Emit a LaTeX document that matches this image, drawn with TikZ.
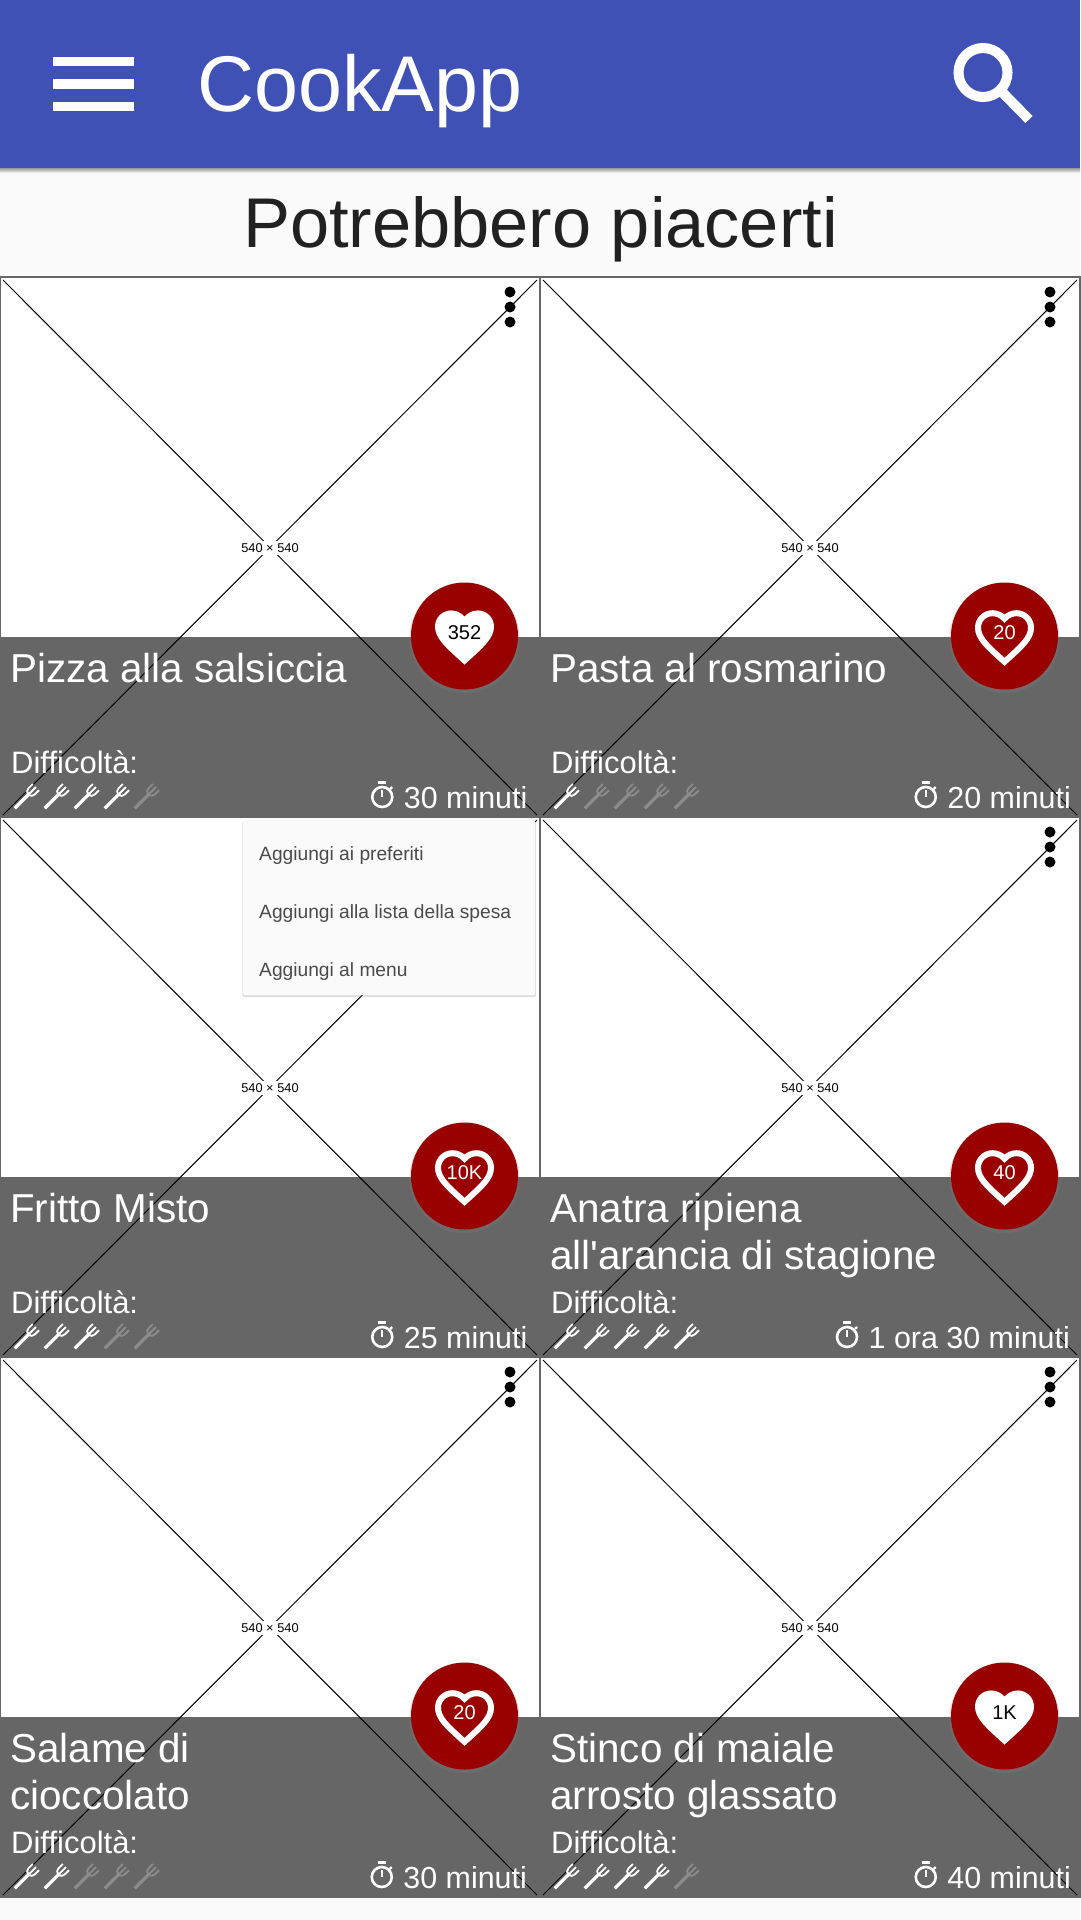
\documentclass[tikz,border=0pt]{standalone}
\usepackage{fontspec}
\setmainfont{Liberation Sans}
\usetikzlibrary{positioning,shadows}

\definecolor{appbar}{HTML}{3F51B5}
\definecolor{pagebg}{HTML}{FAFAFA}
\definecolor{headtext}{HTML}{212121}
\definecolor{panelgrey}{HTML}{666666}
\definecolor{cardline}{HTML}{666666}
\definecolor{fabred}{HTML}{990000}
\definecolor{forkoff}{HTML}{8C8C8C}
\definecolor{menutext}{HTML}{4A4A4A}

\newcommand{\fpx}[2]{\fontsize{#1}{#2}\selectfont}

% outline of the heart
\newcommand{\heartshape}{
  (12,21.35) -- (10.55,20.03)
  .. controls (5.4,15.36) and (2,12.28) .. (2,8.5)
  .. controls (2,5.42) and (4.42,3) .. (7.5,3)
  .. controls (9.24,3) and (10.91,3.81) .. (12,5.09)
  .. controls (13.09,3.81) and (14.76,3) .. (16.5,3)
  .. controls (19.58,3) and (22,5.42) .. (22,8.5)
  .. controls (22,12.28) and (18.6,15.36) .. (13.45,20.04) -- cycle
}

% name, x, y, title, likes, full/line, forks, time, right end of time
\newcommand{\recipecard}[9]{
  \begin{scope}[shift={(#2,#3)}]
    \coordinate (#1nw) at (0,0);
    \coordinate (#1se) at (540,540);
    \fill[white] (#1nw) rectangle (#1se);
    \fill[panelgrey] (0,360) rectangle (#1se);
    \draw[crossline] (3,3) -- (537,538);
    \draw[crossline] (537,3) -- (3,538);
    \draw[cardframe] (#1nw) rectangle (#1se);
    \node (#1size) [sizetext] at (270,271) {540 × 540};
    \foreach \d in {15,30,45} \fill (510,\d) circle (5.5);
    \node (#1title) [titletext] at (10,372) {\strut #4};
    \node (#1level) [difftext] at (11,496) {Difficoltà:};
    \foreach \i in {1,...,5} {
      \ifnum\i>#7\def\forkcol{forkoff}\else\def\forkcol{white}\fi
      \pic[color=\forkcol] at ({-4+30*\i},520) {forkicon};
    }
    \node (#1time) [timetext] at (#9,531) {#8};
    \pic[color=white] at ([xshift=-21.5pt,yshift=11pt]#1time.base west) {clockicon};
    \node (#1fab) [fabdisc] at (464.5,359) {};
    \pic at (464.5,360.5) {heart#6};
    \node (#1likes) [likes#6] at (464.5,356) {#5};
  \end{scope}
}

\begin{document}
\begin{tikzpicture}[
    x=1pt, y=-1pt,
    crossline/.style={black, line width=1},
    cardframe/.style={cardline, line width=1.6},
    sizetext/.style={fill=white, inner sep=2, font=\fpx{12.8}{14}},
    titletext/.style={white, anchor=north west, inner sep=0, align=left, font=\fpx{40.4}{47}},
    difftext/.style={white, anchor=base west, inner sep=0, font=\fpx{31}{36}},
    timetext/.style={white, anchor=base east, inner sep=0, font=\fpx{30.4}{36}},
    fabdisc/.style={circle, fill=fabred, inner sep=0, minimum size=107,
        drop shadow={opacity=.25, shadow xshift=0pt, shadow yshift=-2pt, shadow scale=1.03}},
    likesfull/.style={black, inner sep=0, font=\fpx{20}{24}},
    likesline/.style={white, inner sep=0, font=\fpx{20}{24}},
    menutxt/.style={menutext, anchor=base west, inner sep=0, font=\fpx{19.2}{23}},
    forkicon/.pic={
        \begin{scope}[rotate=45, line width=1.8]
            \draw[line width=3.2] (-16,0) -- (5,0);
            \draw (14,4.4) -- (8,4.4) .. controls (5.5,4.4) and (4,3) .. (3,0)
                .. controls (4,-3) and (5.5,-4.4) .. (8,-4.4) -- (14,-4.4);
            \draw (3,0) -- (14,0);
        \end{scope}
    },
    clockicon/.pic={
        \draw[line width=2.6] (0,0) circle (10);
        \fill (-4,-15.7) rectangle (4,-13.2);
        \draw[line width=2.4] (0,-7) -- (0,0);
        \draw[line width=2.2] (8,-8) -- (10,-10);
    },
    heartfull/.pic={
        \fill[white, scale=2.95, shift={(-12,-12.175)}] \heartshape;
    },
    heartline/.pic={
        \draw[white, line width=6, miter limit=10, scale=2.65, shift={(-12,-12.175)}] \heartshape;
    }
]
\useasboundingbox (0,0) rectangle (1080,1920);
\fill[pagebg] (0,0) rectangle (1080,1920);

% top bar
\fill[appbar] (0,0) rectangle (1080,168);
\shade[top color=black!40, bottom color=pagebg] (0,168) rectangle (1080,173);
\foreach \b in {61.5,84,106.5} \fill[white] (53,\b-4.7) rectangle (134,\b+4.7);
\node (appname) [white, anchor=base west, inner sep=0, font=\fpx{79}{90}] at (197,111) {CookApp};
\coordinate (lensc) at (983,72.5);
\coordinate (lensh) at (1002,92);
\coordinate (lense) at (1029,119.5);
\draw[white, line width=10] (lensc) circle (24.5);
\draw[white, line width=10] (lensh) -- (lense);

\node (pagetitle) [headtext, anchor=base, inner sep=0, font=\fpx{70.4}{80}] at (540.5,247) {Potrebbero piacerti};

% recipes
\recipecard{pizza}{0}{277}{Pizza alla salsiccia}{352}{full}{4}{30 minuti}{527.5}
\recipecard{pasta}{540}{277}{Pasta al rosmarino}{20}{line}{1}{20 minuti}{531}
\recipecard{fritto}{0}{817}{Fritto Misto}{10K}{line}{3}{25 minuti}{527.5}
\recipecard{anatra}{540}{817}{Anatra ripiena\\all\textquotesingle arancia di stagione}{40}{line}{5}{1 ora 30 minuti}{530}
\recipecard{salame}{0}{1357}{Salame di\\cioccolato}{20}{line}{2}{30 minuti}{527}
\recipecard{stinco}{540}{1357}{Stinco di maiale\\arrosto glassato}{1K}{full}{4}{40 minuti}{531}

% open menu
\node (menubox) [fill=pagebg, rounded corners=2, anchor=north west, inner sep=0,
    minimum width=292, minimum height=175,
    drop shadow={opacity=.25, shadow xshift=0pt, shadow yshift=-1.5pt, shadow scale=1.005}] at (243,820) {};
\node (menufav) [menutxt] at (259,860) {Aggiungi ai preferiti};
\node (menulist) [menutxt] at (259,918) {Aggiungi alla lista della spesa};
\node (menumenu) [menutxt] at (259,976) {Aggiungi al menu};
\end{tikzpicture}
\end{document}
